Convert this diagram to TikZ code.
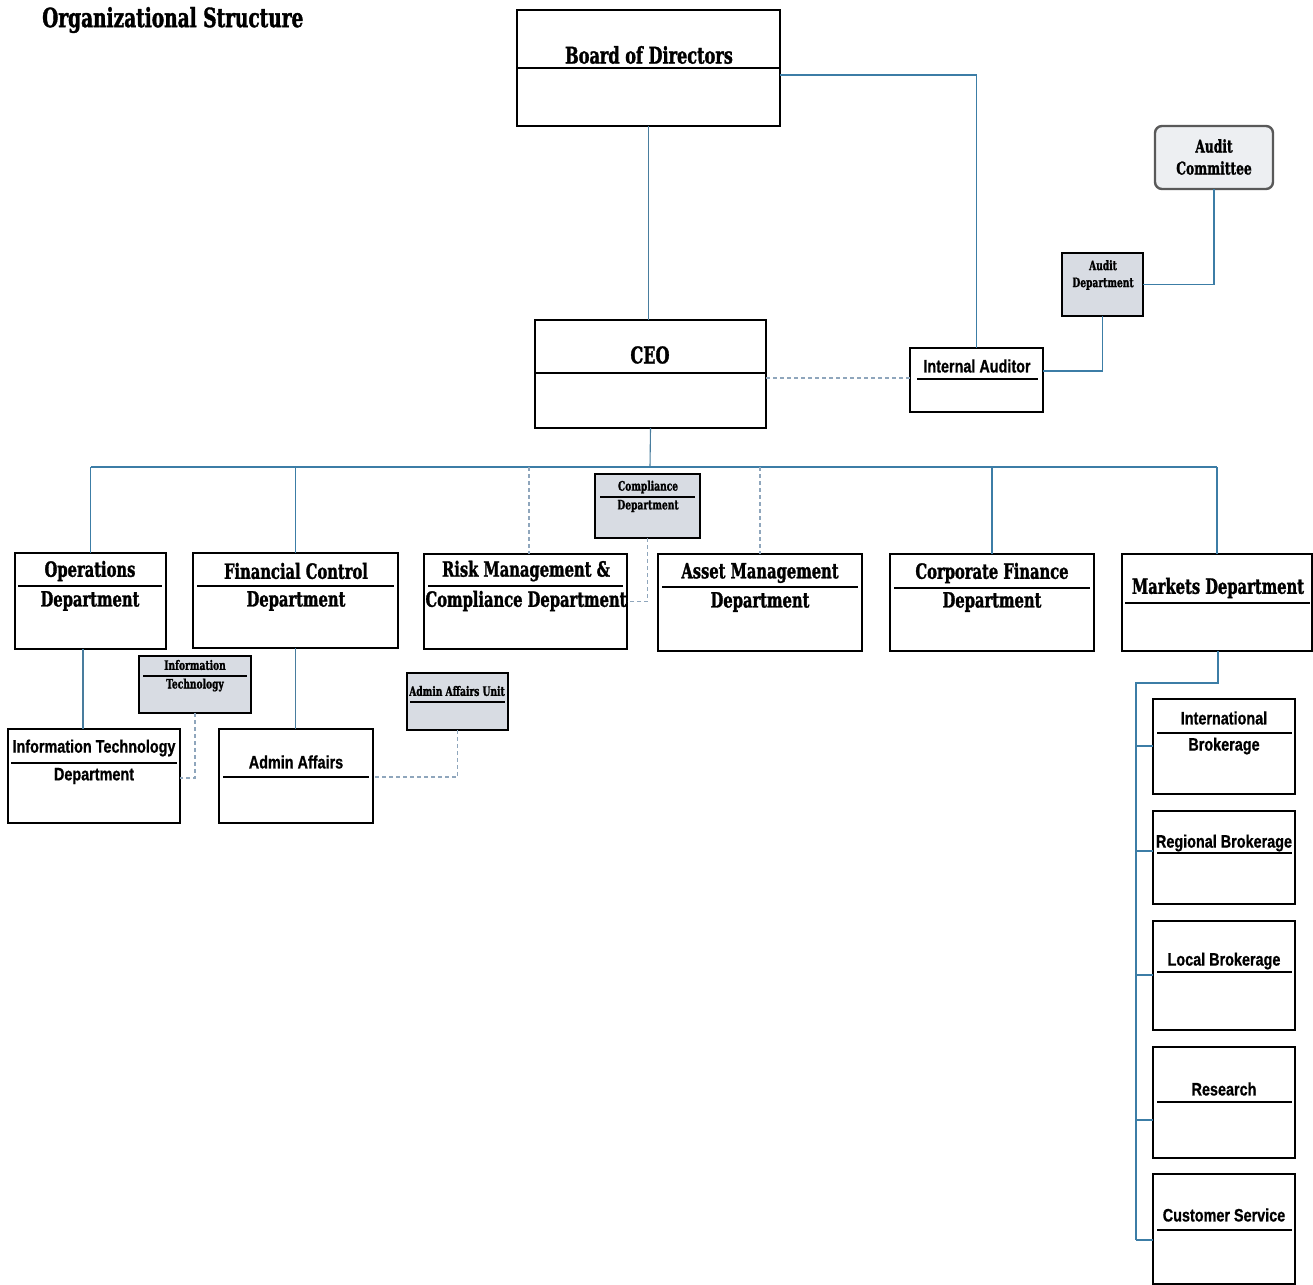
\documentclass[tikz,border=0pt]{standalone}
\usepackage{fontspec}
\newfontfamily\slab[FakeStretch=0.7,FakeBold=1.4]{DejaVu Serif Bold}
\newfontfamily\narrow[FakeStretch=0.8,FakeBold=0.8]{Liberation Sans Bold}
\usetikzlibrary{calc}
\definecolor{connblue}{HTML}{3C7DA6}
\definecolor{dashblue}{HTML}{8FA6BC}
\definecolor{boxgray}{HTML}{D8DCE3}
\begin{document}
\begin{tikzpicture}[x=1pt,y=-1pt,
  orgbox/.style={draw=black, line width=1.6pt, fill=white, inner sep=0pt, outer sep=0pt, anchor=north west},
  bigbox/.style={orgbox, line width=2.4pt},
  graybox/.style={orgbox, fill=boxgray, line width=1.6pt},
  roundbox/.style={orgbox, fill=boxgray!45, draw=black!65, line width=2.4pt, rounded corners=7pt},
  sepline/.style={black, line width=1.6pt},
  conn/.style={connblue, line width=1.5pt},
  thinconn/.style={connblue!80!gray, line width=1.1pt},
  dashconn/.style={dashblue, line width=1.2pt, dash pattern=on 4pt off 3pt},
  serift/.style={font=\slab\fontsize{21}{24}\selectfont, inner sep=0pt},
  bigserift/.style={font=\slab\fontsize{23}{26}\selectfont, inner sep=0pt},
  titlet/.style={font=\slab\fontsize{26.5}{30}\selectfont, inner sep=0pt, anchor=west},
  smallt/.style={font=\slab\fontsize{13}{15}\selectfont, inner sep=0pt},
  midt/.style={font=\slab\fontsize{17.5}{20}\selectfont, inner sep=0pt},
  sanst/.style={font=\narrow\fontsize{18}{21}\selectfont, inner sep=0pt}
]
\useasboundingbox[fill=white] (0,0) rectangle (1313,1284);

\newcommand\orgnode[6]{\node[#6, minimum width={#4-#2}, minimum height={#5-#3}] (#1) at (#2,#3) {};}

% title
\node[titlet] (title) at (42,20) {Organizational Structure};

\coordinate (bus) at (650,467);
\coordinate (mkbend) at (1136,683);
\coordinate (mkend) at (1136,1240);

% ---------- boxes ----------
\orgnode{board}{517}{10}{780}{126}{bigbox}
\orgnode{ceo}{535}{320}{766}{428}{bigbox}
\orgnode{ia}{910}{348}{1043}{412}{orgbox}
\orgnode{ac}{1155}{126}{1273}{189}{roundbox}
\orgnode{ad}{1062}{253}{1143}{316}{graybox}
\orgnode{comp}{595}{474}{700}{538}{graybox}
\orgnode{ops}{15}{553}{166}{649}{orgbox}
\orgnode{fc}{193}{553}{398}{648}{orgbox}
\orgnode{risk}{424}{554}{627}{649}{orgbox}
\orgnode{am}{658}{554}{862}{651}{orgbox}
\orgnode{cf}{890}{554}{1094}{651}{orgbox}
\orgnode{mkt}{1122}{554}{1312}{651}{orgbox}
\orgnode{its}{139}{656}{251}{713}{graybox}
\orgnode{aau}{407}{673}{508}{730}{graybox}
\orgnode{itd}{8}{729}{180}{823}{orgbox}
\orgnode{aa}{219}{729}{373}{823}{orgbox}
\orgnode{ib}{1153}{699}{1295}{794}{orgbox}
\orgnode{rb}{1153}{811}{1295}{904}{orgbox}
\orgnode{lb}{1153}{921}{1295}{1030}{orgbox}
\orgnode{rs}{1153}{1047}{1295}{1158}{orgbox}
\orgnode{cs}{1153}{1174}{1295}{1284}{orgbox}

% ---------- separator lines ----------
\draw[sepline] (518,68) -- (779,68);
\draw[sepline] (536,373) -- (765,373);
\draw[sepline] (917,379) -- (1038,379);
\draw[sepline, line width=1.2pt] (600,497) -- (695,497);
\draw[sepline] (18,586) -- (162,586);
\draw[sepline] (197,586) -- (394,586);
\draw[sepline] (428,586) -- (623,586);
\draw[sepline] (662,587) -- (858,587);
\draw[sepline] (894,588) -- (1090,588);
\draw[sepline] (1125,603) -- (1310,603);
\draw[sepline, line width=1.2pt] (143,676) -- (247,676);
\draw[sepline, line width=1.2pt] (410,702) -- (505,702);
\draw[sepline] (11,763) -- (177,763);
\draw[sepline] (223,777) -- (369,777);
\draw[sepline] (1157,733) -- (1292,733);
\draw[sepline] (1157,853) -- (1292,853);
\draw[sepline] (1157,972) -- (1292,972);
\draw[sepline] (1157,1102) -- (1292,1102);
\draw[sepline] (1157,1230) -- (1292,1230);

% ---------- texts ----------
\node[bigserift] (tboard) at (649,55) {Board of Directors};
\node[bigserift] (tceo) at (650,355) {CEO};
\node[sanst] (tia) at (977,366) {Internal Auditor};
\node[midt, align=center] (tac) at (1214,157) {Audit\\[2pt]Committee};
\node[smallt, align=center] (tad) at (1103,275) {Audit\\[2pt]Department};
\node[smallt] (tcomp1) at (648,487) {Compliance};
\node[smallt] (tcomp2) at (648,506) {Department};
\node[serift] (tops1) at (90,571) {Operations};
\node[serift] (tops2) at (90,601) {Department};
\node[serift] (tfc1) at (296,571) {Financial Control};
\node[serift] (tfc2) at (296,601) {Department};
\node[serift] (trisk1) at (526,571) {Risk Management \&};
\node[serift] (trisk2) at (526,601) {Compliance Department};
\node[serift] (tam1) at (760,573) {Asset Management};
\node[serift] (tam2) at (760,602) {Department};
\node[serift] (tcf1) at (992,573) {Corporate Finance};
\node[serift] (tcf2) at (992,602) {Department};
\node[serift] (tmkt) at (1218,588) {Markets Department};
\node[smallt] (tits1) at (195,665) {Information};
\node[smallt] (tits2) at (195,685) {Technology};
\node[smallt] (taau) at (457,691) {Admin Affairs Unit};
\node[sanst] (titd1) at (94,748) {Information Technology};
\node[sanst] (titd2) at (94,776) {Department};
\node[sanst] (taa) at (296,762) {Admin Affairs};
\node[sanst] (tib1) at (1224,718) {International};
\node[sanst] (tib2) at (1224,746) {Brokerage};
\node[sanst] (trb) at (1224,843) {Regional Brokerage};
\node[sanst] (tlb) at (1224,961) {Local Brokerage};
\node[sanst] (trs) at (1224,1089) {Research};
\node[sanst] (tcs) at (1224,1215) {Customer Service};

% ---------- connectors ----------
\draw[thinconn] (board.south) -- (board.south |- ceo.north);
\draw[conn] (board.east |- 0,75) -| (ia.north);
\draw[dashconn] (ceo.east |- 0,378) -- (ia.west |- 0,378);
\draw[conn] (ia.east |- 0,371) -| (ad.south);
\draw[conn] (ad.east) -| (ac.south);
\draw[thinconn] (ceo.south) -- (bus);
\draw[conn] (ops.north |- bus) -- (mkt.north |- bus);
\draw[conn] (ops.north |- bus) -- (ops.north);
\draw[conn] (fc.north |- bus) -- (fc.north);
\draw[dashconn] (529,467) -- (529,554);
\draw[dashconn] (760,467) -- (760,554);
\draw[conn] (cf.north |- bus) -- (cf.north);
\draw[conn] (mkt.north |- bus) -- (mkt.north);
\draw[dashconn] (comp.south) |- (risk.east);
\draw[thinconn] (ops.south -| 83,0) -- (itd.north -| 83,0);
\draw[thinconn] (fc.south) -- (fc.south |- aa.north);
\draw[dashconn] (its.south) |- (itd.east |- 0,778);
\draw[dashconn] (aau.south) |- (aa.east |- 0,777);
\draw[conn] (mkt.south -| 1218,0) |- (mkbend) -- (mkend);
\draw[conn] (1136,746) -- (ib.west |- 0,746);
\draw[conn] (1136,851) -- (rb.west |- 0,851);
\draw[conn] (1136,975) -- (lb.west |- 0,975);
\draw[conn] (1136,1120) -- (rs.west |- 0,1120);
\draw[conn] (1136,1240) -- (cs.west |- 0,1240);
\end{tikzpicture}
\end{document}
